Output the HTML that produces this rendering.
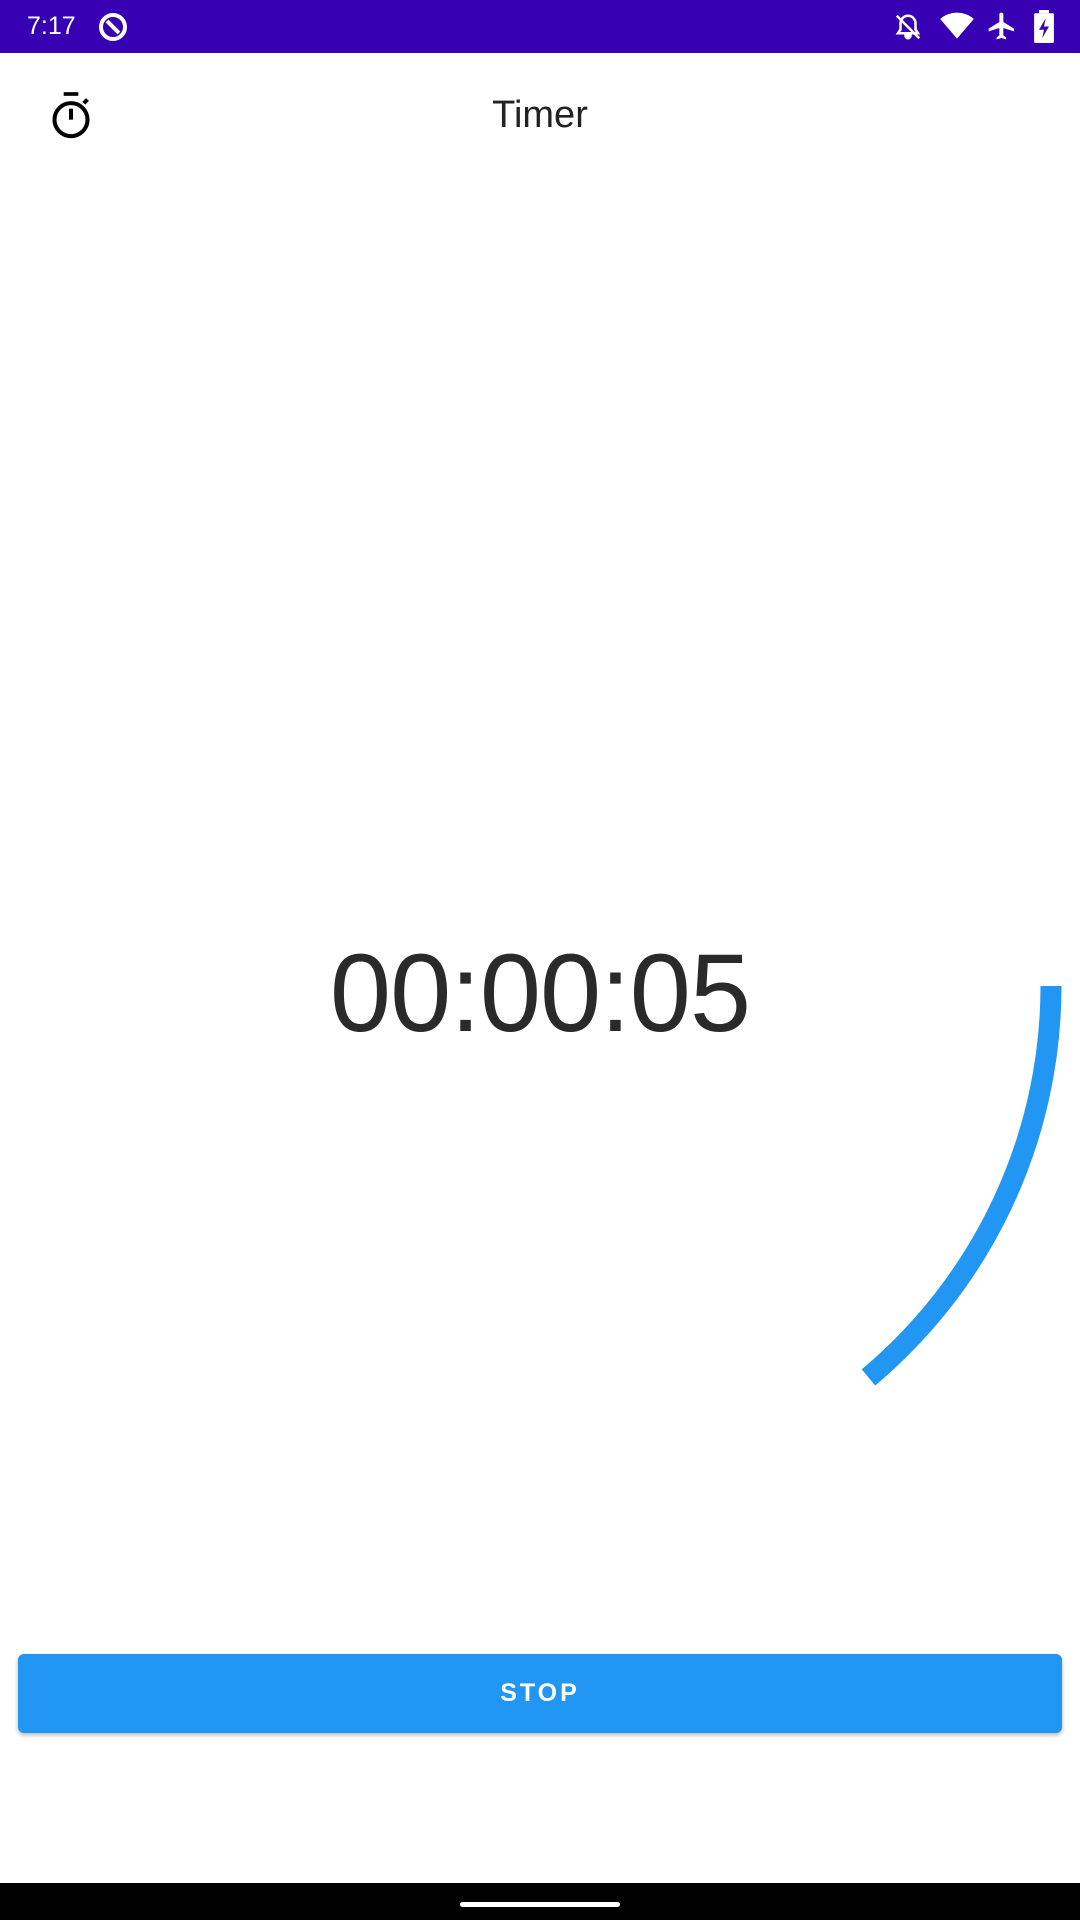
<!DOCTYPE html>
<html><head><meta charset="utf-8">
<style>
html,body{margin:0;padding:0;width:1080px;height:1920px;background:#fff;overflow:hidden;font-family:"Liberation Sans",sans-serif;position:relative}
#status{position:absolute;left:0;top:0;width:1080px;height:53px;background:#3700b3;color:#fff}
#status .time{position:absolute;left:27px;top:12px;font-size:25px}
#title{position:absolute;top:94px;width:1080px;text-align:center;font-size:38px;color:#222}
#timer{position:absolute;top:930px;width:1080px;text-align:center;font-size:110px;color:#2a2a2a;letter-spacing:-1px}
#stop{position:absolute;left:18px;top:1654px;width:1044px;height:79px;background:#2196f3;border-radius:6px;box-shadow:0 2px 4px rgba(0,0,0,.3);color:#fff;font-size:25px;font-weight:bold;letter-spacing:3px;display:flex;align-items:center;justify-content:center}
#nav{position:absolute;left:0;top:1883px;width:1080px;height:37px;background:#000}
#handle{position:absolute;left:460px;top:19px;width:160px;height:5px;border-radius:3px;background:#fff}
</style></head><body>
<div id="status">
<span class="time">7:17</span>
<svg style="position:absolute;left:97px;top:11px" width="32" height="32" viewBox="0 0 32 32"><circle cx="16" cy="16" r="12" fill="none" stroke="#fff" stroke-width="4"/><path d="M10 10 L22 22" stroke="#fff" stroke-width="4"/></svg>
<svg style="position:absolute;left:893px;top:12px" width="30" height="30" viewBox="0 0 24 24"><path d="M12 3a6 6 0 0 1 6 6v5l2 3H4l2-3V9a6 6 0 0 1 6-6zM10 19h4a2 2 0 0 1-4 0zM3 3l18 18" stroke="#fff" stroke-width="2" fill="none"/></svg>
<svg style="position:absolute;left:940px;top:12px" width="34" height="28" viewBox="0 0 24 20"><path d="M12 19L0 5a18 18 0 0 1 24 0z" fill="#fff"/></svg>
<svg style="position:absolute;left:986px;top:10px" width="32" height="32" viewBox="0 0 24 24"><path d="M21 16v-2l-8-5V3.5a1.5 1.5 0 0 0-3 0V9l-8 5v2l8-2.5V19l-2 1.5V22l3.5-1 3.5 1v-1.5L13 19v-5.5z" fill="#fff"/></svg>
<svg style="position:absolute;left:1034px;top:10px" width="20" height="33" viewBox="0 0 12 20"><rect x="3" y="0" width="6" height="2" fill="#fff"/><rect x="0" y="2" width="12" height="18" rx="1" fill="#fff"/><path d="M7 5L3 12h3l-1 5 4-7H6z" fill="#3700b3"/></svg>
</div>
<svg style="position:absolute;left:49px;top:92px" width="44" height="48" viewBox="0 0 24 26"><rect x="8" y="0" width="8" height="2" fill="#000"/><circle cx="12" cy="15" r="9" fill="none" stroke="#000" stroke-width="2.2"/><path d="M12 15V9" stroke="#000" stroke-width="2.2"/><path d="M19 6l2-2" stroke="#000" stroke-width="2.2"/></svg>
<div id="title">Timer</div>
<div id="timer">00:00:05</div>
<svg id="arcsvg" style="position:absolute;left:0;top:0" width="1080" height="1920"></svg>
<div id="stop">STOP</div>
<div id="nav"><div id="handle"></div></div>
<script>
const elapsed = [5];
const total = [36];
const cx = 540, cy = 986, r = 511;
function angleScale(v, t) { return v / t * 2 * Math.PI; }
const a = angleScale(elapsed[0], total[0]);
const x1 = cx + r, y1 = cy;
const x2 = cx + r * Math.cos(a), y2 = cy + r * Math.sin(a);
const p = document.createElementNS('http://www.w3.org/2000/svg', 'path');
p.setAttribute('d', `M${x1} ${y1} A${r} ${r} 0 ${a > Math.PI ? 1 : 0} 1 ${x2} ${y2}`);
p.setAttribute('fill', 'none');
p.setAttribute('stroke', '#2196f3');
p.setAttribute('stroke-width', '21');


document.getElementById('arcsvg').appendChild(p);
</script>
</body></html>
